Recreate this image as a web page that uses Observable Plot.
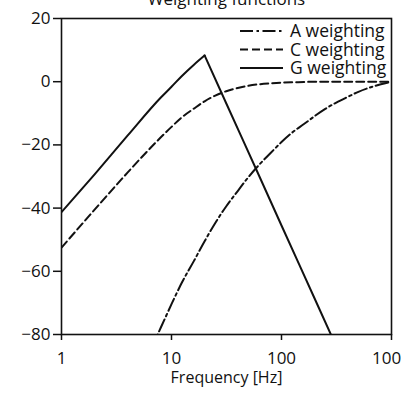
<!DOCTYPE html>
<html><head><meta charset="utf-8">
<script src="https://cdn.jsdelivr.net/npm/d3@7"></script>
<script src="https://cdn.jsdelivr.net/npm/@observablehq/plot@0.6"></script>
<style>
html,body{margin:0;padding:0;background:#fff;overflow:hidden}
</style></head><body><div id="chart"></div>
<script>
const title = "Weighting functions";
const xLabel = "Frequency [Hz]";
const xTicks = [1, 10, 100, 1000];
const yTicks = [-80, -60, -40, -20, 0, 20];
const seriesNames = ["A weighting", "C weighting", "G weighting"];

const freqA = [6.3, 8, 10, 12.5, 16, 20, 25, 31.5, 40, 50, 63, 80, 100, 125, 160, 200, 250, 315, 400, 500, 630, 800, 1000];
const gainA = [-85.4, -77.8, -70.4, -63.4, -56.7, -50.5, -44.7, -39.4, -34.6, -30.2, -26.2, -22.5, -19.1, -16.1, -13.4, -10.9, -8.6, -6.6, -4.8, -3.2, -1.9, -0.8, 0];

const freqC = [1, 2, 4, 6.3, 8, 10, 12.5, 16, 20, 25, 31.5, 40, 50, 63, 80, 100, 125, 160, 200, 315, 500, 1000];
const gainC = [-52.5, -40.5, -28.7, -21.3, -17.6, -14.3, -11.2, -8.5, -6.2, -4.4, -3.0, -2.0, -1.3, -0.8, -0.5, -0.3, -0.2, -0.1, 0, 0, 0, 0];

const freqG = [1, 2, 4, 8, 10, 12.5, 16, 20];
const gainG = [-41.3, -29.3, -17.0, -5.0, -1.6, 1.9, 5.4, 8.3];
const freqGfall = [20, 31.5, 63, 100, 200, 315];
const gainGfall = [8.3, -6.9, -30.0, -45.5, -68.6, -83.8];

const series = [
  {name: seriesNames[0], f: freqA, g: gainA, dash: "13,3.5,2.5,3.5"},
  {name: seriesNames[1], f: freqC, g: gainC, dash: "8,4"},
  {name: seriesNames[2], f: freqG, g: gainG, dash: null},
  {name: seriesNames[2] + " (roll-off)", f: freqGfall, g: gainGfall, dash: null}
];
const rows = series.flatMap(s => s.f.map((f, i) => ({series: s.name, f, g: s.g[i]})));

const font = "'Open Sans', sans-serif";
const ink = "#111";

const plot = Plot.plot({
  width: 401, height: 394,
  marginLeft: 61, marginRight: 10, marginTop: 18, marginBottom: 60,
  style: {fontFamily: font, fontSize: "17px", color: ink, background: "#fff"},
  x: {type: "log", domain: [1, 1000]},
  y: {domain: [-80, 20]},
  marks: [
    ...series.map(s => Plot.line(rows.filter(r => r.series === s.name), {
      x: "f", y: "g", stroke: ink, strokeWidth: 2, strokeDasharray: s.dash,
      curve: "monotone-x", clip: true
    })),
    Plot.frame({stroke: ink, strokeWidth: 1.6}),
    Plot.axisX({ticks: xTicks, tickFormat: d => String(d), tickSize: 6, tickPadding: 11, label: null, strokeWidth: 1.5, fontSize: 17}),
    Plot.axisY({ticks: yTicks, tickFormat: d3.format("d"), tickSize: 8, tickPadding: 3, label: null, strokeWidth: 1.5, fontSize: 17}),
    Plot.text([xLabel], {text: d => d, frameAnchor: "bottom", dy: 48, fontSize: 16}),
    Plot.text([title], {text: d => d, frameAnchor: "top", dy: -14, lineAnchor: "bottom", fontSize: 17})
  ]
});

// legend inside the frame, top-right
const svg = d3.select(plot);
const lg = svg.append("g").attr("font-family", font).attr("font-size", 17.5)
  .attr("fill", ink).attr("text-anchor", "start");
const legX1 = 240, legX2 = 283, legTX = 290, legY0 = 31, legDY = 18.5;
series.slice(0, 3).forEach((s, i) => {
  const y = legY0 + i * legDY;
  lg.append("line").attr("x1", legX1).attr("x2", legX2).attr("y1", y).attr("y2", y)
    .attr("stroke", ink).attr("stroke-width", 2).attr("stroke-dasharray", s.dash);
  lg.append("text").attr("x", legTX).attr("y", y).attr("dy", "0.35em").text(s.name);
});

document.getElementById("chart").appendChild(plot);
</script></body></html>
